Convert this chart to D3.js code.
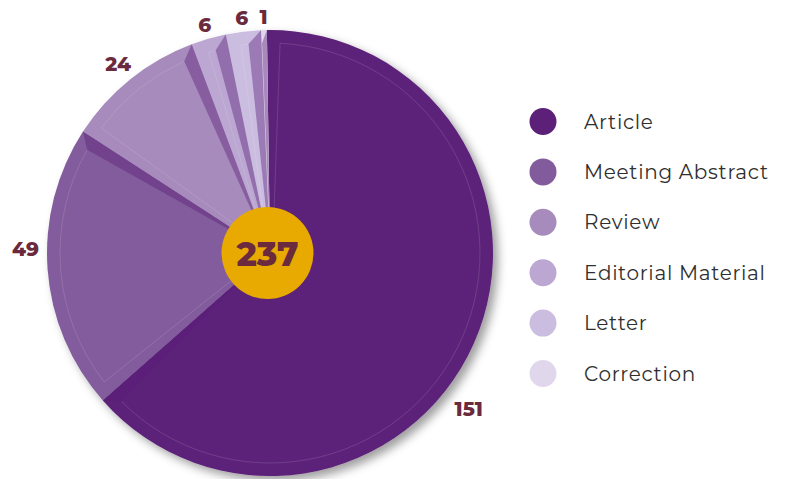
<!DOCTYPE html>
<html>
<head>
<meta charset="utf-8">
<script src="https://cdn.jsdelivr.net/npm/d3@7"></script>
<style>
  html, body { margin: 0; padding: 0; background: #ffffff; }
  svg { display: block; }
</style>
</head>
<body>
<svg id="chart" width="788" height="479"></svg>
<script>
// Document types and their record counts
const categories = ["Article", "Meeting Abstract", "Review", "Editorial Material", "Letter", "Correction"];
const counts = [151, 49, 24, 6, 6, 1];
const colors = ["#5c2079", "#825b9c", "#a78bbc", "#bba7d2", "#cbbde0", "#e1d7ec"];
const totalLabel = "237";

const W = 788, H = 479;
const cx = 270, cy = 253, R = 223;
const labelColor = "#6b2a3d";

const svg = d3.select("#chart");
const defs = svg.append("defs");

const shadow = defs.append("filter").attr("id", "pieShadow")
  .attr("x", "-20%").attr("y", "-20%").attr("width", "140%").attr("height", "140%");
shadow.append("feDropShadow")
  .attr("dx", 5).attr("dy", 5).attr("stdDeviation", 5)
  .attr("flood-color", "#000").attr("flood-opacity", 0.38);

const rot = -0.014;
const pie = d3.pie().sort(null).value(d => d.value)
  .startAngle(rot).endAngle(2 * Math.PI + rot);
const data = categories.map((c, i) => ({ name: c, value: counts[i], color: colors[i] }));
const arcs = pie(data);

const arc = d3.arc().innerRadius(0).outerRadius(R);
const pt = (r, a) => [r * Math.sin(a), -r * Math.cos(a)];

const g = svg.append("g").attr("transform", `translate(${cx},${cy})`);

// Slice faces, with a soft drop shadow under the whole pie
const faces = g.append("g").attr("filter", "url(#pieShadow)");
faces.selectAll("path.slice")
  .data(arcs)
  .join("path")
  .attr("class", "slice")
  .attr("d", arc)
  .attr("fill", d => d.data.color);

// Bevel: a darker side face along the closing edge of every slice
const bevel = 13;
const sides = g.append("g");
arcs.forEach(d => {
  const e = d.endAngle;
  const span = d.endAngle - d.startAngle;
  const back = Math.min(bevel / (R - bevel), span * 0.9);
  const poly = [
    pt(20, e),
    pt(R, e),
    pt(R - bevel, e - back),
    pt(40, e - Math.min(2 / 40, span * 0.5))
  ];
  sides.append("path")
    .attr("d", d3.line()(poly) + "Z")
    .attr("fill", d3.interpolateRgb(d.data.color, colors[0])(0.45))
    .attr("opacity", 0.95);
});

// Faint highlight where the bevel meets the top face
arcs.forEach(d => {
  const span = d.endAngle - d.startAngle;
  const pad = bevel / (R - bevel);
  if (span <= 2 * pad) return;
  const s = d.startAngle + pad, e = d.endAngle - pad;
  const inner = 40;
  const p0 = pt(inner, d.startAngle + Math.min(bevel / inner, span / 2) * 0.35);
  const p1 = pt(R - bevel, s);
  const arcPath = d3.path();
  arcPath.moveTo(p0[0], p0[1]);
  arcPath.lineTo(p1[0], p1[1]);
  arcPath.arc(0, 0, R - bevel, s - Math.PI / 2, e - Math.PI / 2, false);
  g.append("path")
    .attr("d", arcPath.toString())
    .attr("fill", "none")
    .attr("stroke", "#ffffff")
    .attr("stroke-opacity", 0.16)
    .attr("stroke-width", 0.8);
});

// Value labels around the pie: each label box sits a fixed gap outside the rim
const labelGap = 8;
const labelShift = { "Article": { da: 0.25, dr: 8 }, "Meeting Abstract": { da: 0.09, dr: 0 } };
g.selectAll("text.value")
  .data(arcs)
  .join("text")
  .attr("class", "value")
  .attr("text-anchor", "middle")
  .attr("dominant-baseline", "central")
  .attr("font-family", "Montserrat, 'Open Sans', sans-serif")
  .attr("font-weight", 800)
  .attr("font-size", 20)
  .attr("fill", labelColor)
  .text(d => d.data.value)
  .each(function (d) {
    const sh = labelShift[d.data.name] || { da: 0, dr: 0 };
    const a = (d.startAngle + d.endAngle) / 2 + sh.da;
    const hw = this.getComputedTextLength() / 2, hh = 4.5;
    const r = R + labelGap + Math.abs(Math.sin(a)) * hw + Math.abs(Math.cos(a)) * hh + sh.dr;
    const p = pt(r, a);
    d3.select(this).attr("x", p[0]).attr("y", p[1]);
  });

// Total in the centre
g.append("circle").attr("r", 46).attr("cx", -2.5).attr("fill", "#e8a900");
g.append("text")
  .attr("x", -2.5).attr("y", 1)
  .attr("text-anchor", "middle")
  .attr("dominant-baseline", "central")
  .attr("font-family", "Montserrat, 'Open Sans', sans-serif")
  .attr("font-weight", 800)
  .attr("font-size", 34)
  .attr("fill", labelColor)
  .text(totalLabel);

// Legend
const legendY = d3.scalePoint().domain(categories).range([121.5, 373.5]);
const legend = svg.append("g");
const items = legend.selectAll("g.item")
  .data(data)
  .join("g")
  .attr("class", "item")
  .attr("transform", d => `translate(543,${legendY(d.name)})`);
items.append("circle").attr("r", 13.5).attr("fill", d => d.color);
items.append("text")
  .attr("x", 41)
  .attr("y", 0)
  .attr("dominant-baseline", "central")
  .attr("font-family", "Montserrat, 'Open Sans', sans-serif")
  .attr("font-size", 20)
  .attr("letter-spacing", 0.7)
  .attr("fill", "#2f2f2f")
  .text(d => d.name);
</script>
</body>
</html>
